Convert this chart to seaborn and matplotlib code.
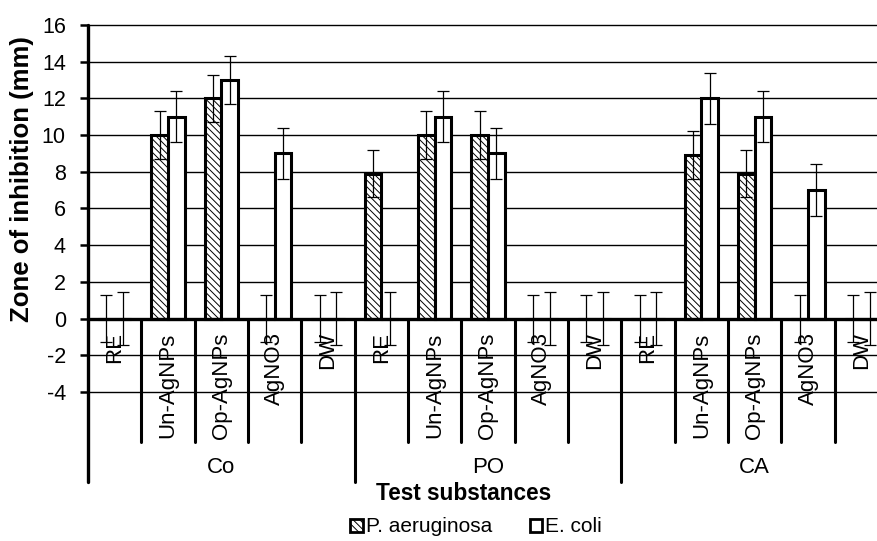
import matplotlib
matplotlib.use("Agg")
import matplotlib.pyplot as plt
from matplotlib.patches import Patch
import seaborn as sns
import pandas as pd

groups = ["Co", "PO", "CA"]
substances = ["RE", "Un-AgNPs", "Op-AgNPs", "AgNO3", "DW"]
series = ["P. aeruginosa", "E. coli"]

p_aeruginosa = [0, 10, 12, 0, 0,   7.9, 10, 10, 0, 0,   0, 8.9, 7.9, 0, 0]
e_coli       = [0, 11, 13, 9, 0,   0, 11, 9, 0, 0,      0, 12, 11, 7, 0]
p_err        = [1.3, 1.3, 1.3, 1.3, 1.3,  1.3, 1.3, 1.3, 1.3, 1.3,  1.3, 1.3, 1.3, 1.3, 1.3]
e_err        = [1.45, 1.4, 1.3, 1.4, 1.45,  1.45, 1.4, 1.4, 1.45, 1.45,  1.45, 1.4, 1.4, 1.4, 1.45]

yticks = list(range(-4, 17, 2))

cats = [f"{g}|{s}" for g in groups for s in substances]
df = pd.DataFrame({
    "cat": cats * 2,
    "series": [series[0]] * 15 + [series[1]] * 15,
    "value": p_aeruginosa + e_coli,
})

sns.set_theme(style="white")
plt.rcParams["font.family"] = ["Liberation Sans", "DejaVu Sans"]
plt.rcParams["hatch.linewidth"] = 0.7
plt.rcParams["text.color"] = "black"
plt.rcParams["ytick.color"] = "black"
plt.rcParams["ytick.labelcolor"] = "black"

W, H = 878, 541
fig = plt.figure(figsize=(W / 100, H / 100), dpi=100)
ax = fig.add_axes([88 / W, 1 - 392 / H, 800 / W, 367 / H])

sns.barplot(data=df, x="cat", y="value", hue="series", order=cats,
            hue_order=series, palette=["white", "white"], edgecolor="black",
            linewidth=2.2, width=0.62, errorbar=None, legend=False, ax=ax,
            saturation=1, zorder=3)

for bar in ax.containers[0]:
    bar.set_hatch("\\\\\\\\\\")

for cont, errs in zip(ax.containers, [p_err, e_err]):
    xs = [b.get_x() + b.get_width() / 2 for b in cont]
    ys = [b.get_height() for b in cont]
    ax.errorbar(xs, ys, yerr=errs, fmt="none", ecolor="black", elinewidth=0.9,
                capsize=4.3, capthick=0.9, zorder=4, clip_on=False)

ax.set_xlim(-0.5, 14.5)
ax.set_ylim(-4, 16)
ax.set_yticks(yticks)
ax.set_yticklabels([str(v) for v in yticks], fontsize=15.5, color="black")
ax.set_xticks([])
ax.set_xlabel("")
ax.set_ylabel("")
ax.grid(axis="y", color="black", linewidth=1.0)
for gl in ax.get_ygridlines():
    gl.set_clip_on(False)
ax.set_axisbelow(True)
for s in ax.spines.values():
    s.set_visible(False)
ax.tick_params(axis="y", direction="out", length=6, width=1.8, color="black",
               pad=10, left=True)
ax.axhline(0, color="black", linewidth=2.4, zorder=5)

# left axis line down to bottom of category axis
ax.plot([-0.5, -0.5], [16, -8.9], color="black", lw=2.4, clip_on=False, zorder=6)

# category separators and labels
for k in range(1, 15):
    bottom = -8.9 if k % 5 == 0 else -6.7
    ax.plot([k - 0.5, k - 0.5], [0, bottom], color="black", lw=2.2,
            clip_on=False, zorder=6)
for i, c in enumerate(cats):
    sub = c.split("|")[1]
    ax.text(i, -0.75, sub, rotation=90, ha="center", va="top", fontsize=16,
            color="black", clip_on=False)
for gi, g in enumerate(groups):
    ax.text(gi * 5 + 2, -8.1, g, ha="center", va="center", fontsize=16,
            color="black", clip_on=False)

fig.text(22 / W, 1 - 179 / H, "Zone of inhibition (mm)", rotation=90,
         ha="center", va="center", fontsize=18.5, fontweight="bold",
         color="black")
fig.text(464 / W, 1 - 494 / H, "Test substances", ha="center", va="center",
         fontsize=16.3, fontweight="bold", color="black")

handles = [Patch(facecolor="white", edgecolor="black", hatch="\\\\\\\\\\", linewidth=2),
           Patch(facecolor="white", edgecolor="black", linewidth=2)]
leg = fig.legend(handles, series, loc="center", bbox_to_anchor=(476 / W, 1 - 527 / H),
                 ncol=2, frameon=False, fontsize=15, handlelength=0.6,
                 handleheight=0.6, handletextpad=0.15, columnspacing=1.8,
                 borderpad=0.1)
for t in leg.get_texts():
    t.set_color("black")

fig.savefig("out.png", dpi=100)
